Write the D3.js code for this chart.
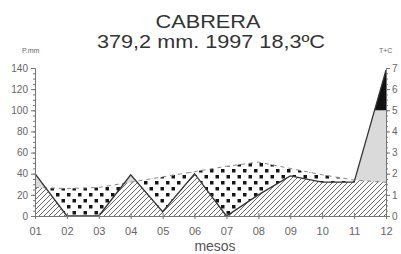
<!DOCTYPE html>
<html>
<head>
<meta charset="utf-8">
<script src="https://cdn.jsdelivr.net/npm/d3@7"></script>
<style>
body { margin: 0; background: #fff; }
svg { display: block; font-family: "Liberation Sans", Arial, sans-serif; }
</style>
</head>
<body>
<script>
var months = ["01", "02", "03", "04", "05", "06", "07", "08", "09", "10", "11", "12"];
var precip = [40, 0, 0, 39, 4, 40, 0, 20, 38, 32, 32, 138]; // mm
var temp = [13.5, 13, 13.5, 16, 18.5, 21, 23.5, 25.5, 22.5, 19.5, 17, 16]; // ºC
var pTicks = [0, 20, 40, 60, 80, 100, 120, 140];
var tTicks = [0, 10, 20, 30, 40, 50, 60, 70];

var w = 401, h = 254;
var svg = d3.select("body").append("svg").attr("width", w).attr("height", h);

var x = d3.scaleLinear().domain([0, 11]).range([35, 386]);
var y = d3.scaleLinear().domain([0, 140]).range([216, 68]);
var yt = d3.scaleLinear().domain([0, 70]).range([216, 68]); // T scale = P/2

var idx = d3.range(months.length);
var defs = svg.append("defs");

// hatch + dot patterns
var hatch = defs.append("pattern").attr("id", "hatch").attr("patternUnits", "userSpaceOnUse")
    .attr("width", 5).attr("height", 5);
hatch.append("path").attr("d", "M0,5L5,0M-1,1L1,-1M4,6L6,4")
    .attr("stroke", "#444").attr("stroke-width", 0.8);
var dots = defs.append("pattern").attr("id", "dots").attr("patternUnits", "userSpaceOnUse")
    .attr("width", 11).attr("height", 12);
dots.append("rect").attr("x", 1).attr("y", 1).attr("width", 3.5).attr("height", 3.5).attr("fill", "#151515");
dots.append("rect").attr("x", 6.5).attr("y", 7).attr("width", 3.5).attr("height", 3.5).attr("fill", "#151515");

var underP = d3.area().x(function (i) { return x(i); }).y0(y(0)).y1(function (i) { return y(precip[i]); });
var aboveP = d3.area().x(function (i) { return x(i); }).y0(0).y1(function (i) { return y(precip[i]); });
var underT = d3.area().x(function (i) { return x(i); }).y0(y(0)).y1(function (i) { return yt(temp[i]); });
var aboveT = d3.area().x(function (i) { return x(i); }).y0(0).y1(function (i) { return yt(temp[i]); });

defs.append("clipPath").attr("id", "cUnderP").append("path").attr("d", underP(idx));
defs.append("clipPath").attr("id", "cAboveP").append("path").attr("d", aboveP(idx));
defs.append("clipPath").attr("id", "cAboveT").append("path").attr("d", aboveT(idx));
defs.append("clipPath").attr("id", "cOver100").append("rect")
    .attr("x", 0).attr("y", 0).attr("width", w).attr("height", y(100));

// humid (light grey), very humid (black), dry (dots), under both (hatch)
svg.append("path").attr("d", underP(idx)).attr("fill", "#dadada").attr("clip-path", "url(#cAboveT)");
svg.append("path").attr("d", underP(idx)).attr("fill", "#111").attr("clip-path", "url(#cOver100)");
svg.append("path").attr("d", underT(idx)).attr("fill", "url(#hatch)").attr("clip-path", "url(#cUnderP)");
svg.append("path").attr("d", underT(idx)).attr("fill", "url(#dots)").attr("clip-path", "url(#cAboveP)");

// lines
svg.append("path").attr("d", d3.line().x(function (i) { return x(i); }).y(function (i) { return yt(temp[i]); })(idx))
    .attr("fill", "none").attr("stroke", "#888").attr("stroke-width", 1).attr("stroke-dasharray", "4,4");
svg.append("path").attr("d", d3.line().x(function (i) { return x(i); }).y(function (i) { return y(precip[i]); })(idx))
    .attr("fill", "none").attr("stroke", "#333").attr("stroke-width", 1.3);

// axes
var axisColor = "#777", labelColor = "#666";
var left = svg.append("g").attr("transform", "translate(35,0)")
    .call(d3.axisLeft(y).tickValues(d3.range(0, 141, 5)).tickSize(2).tickFormat(""));
var leftMajor = svg.append("g").attr("transform", "translate(35,0)")
    .call(d3.axisLeft(y).tickValues(pTicks).tickSize(4).tickPadding(3));
var right = svg.append("g").attr("transform", "translate(386,0)")
    .call(d3.axisRight(yt).tickValues(d3.range(0, 71, 2.5)).tickSize(2).tickFormat(""));
// the picture is cut at its right edge, only the tens digit of each T label shows
var rightMajor = svg.append("g").attr("transform", "translate(386,0)")
    .call(d3.axisRight(yt).tickValues(tTicks).tickSize(4).tickPadding(2)
        .tickFormat(function (d) { return String(d / 10); }));
var bottom = svg.append("g").attr("transform", "translate(0,216)")
    .call(d3.axisBottom(x).tickValues(idx).tickSize(3).tickPadding(8).tickFormat(function (i) { return months[i]; }));
bottom.selectAll(".tick line").attr("y1", -3);

[left, leftMajor, right, rightMajor, bottom].forEach(function (g) {
    g.selectAll("path.domain").attr("stroke", axisColor);
    g.selectAll(".tick line").attr("stroke", axisColor);
    g.selectAll("text").attr("fill", labelColor).attr("font-family", "Liberation Sans, Arial, sans-serif");
});
leftMajor.selectAll("path.domain").remove();
rightMajor.selectAll("path.domain").remove();
leftMajor.selectAll("text").attr("font-size", 10);
rightMajor.selectAll("text").attr("font-size", 10);
bottom.selectAll("text").attr("font-size", 11);

// titles
svg.append("text").attr("x", 208).attr("y", 28).attr("text-anchor", "middle")
    .attr("font-size", 19).attr("fill", "#333").attr("textLength", 105).attr("lengthAdjust", "spacingAndGlyphs")
    .text("CABRERA");
svg.append("text").attr("x", 211).attr("y", 48).attr("text-anchor", "middle")
    .attr("font-size", 19).attr("fill", "#333").attr("textLength", 228).attr("lengthAdjust", "spacingAndGlyphs")
    .text("379,2 mm. 1997 18,3ºC");
svg.append("text").attr("x", 22).attr("y", 53).attr("font-size", 7).attr("fill", labelColor).text("P.mm");
svg.append("text").attr("x", 379).attr("y", 53).attr("font-size", 7).attr("fill", labelColor).text("T+C");
svg.append("text").attr("x", 215).attr("y", 251).attr("text-anchor", "middle")
    .attr("font-size", 14).attr("fill", "#555").text("mesos");
</script>
</body>
</html>
